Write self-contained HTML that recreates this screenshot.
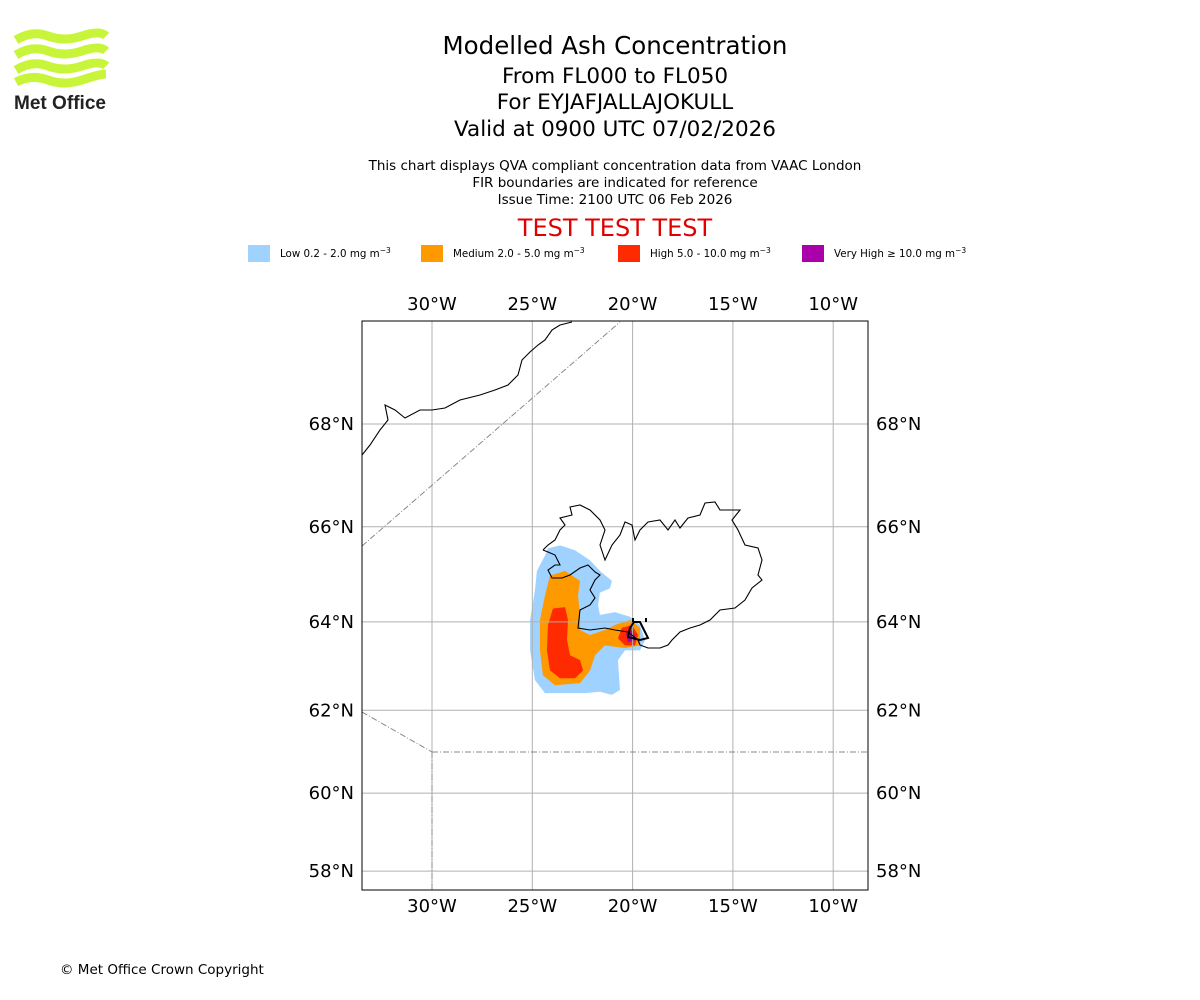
<!DOCTYPE html>
<html><head><meta charset="utf-8"><style>
body{margin:0;background:#fff;font-family:"DejaVu Sans","Liberation Sans",sans-serif;}
#root{position:relative;width:1200px;height:1000px;overflow:hidden;}
.t{position:absolute;left:0;width:1230px;text-align:center;color:#000;}
</style></head><body><div id="root">
<svg width="100" height="90" style="position:absolute;left:12px;top:28px" viewBox="0 0 100 90">
<g fill="none" stroke="#c8f53a" stroke-width="9">
<path d="M4 12 Q20 2 36 8 T70 8 T94 8"/><path d="M4 27 Q20 17 36 23 T70 23 T94 23"/><path d="M4 42 Q20 32 36 38 T70 38 T94 38"/><path d="M4 54 Q20 46 36 52 T70 52 T94 46"/></g>
<text x="2" y="81" font-family="Liberation Sans,sans-serif" font-weight="bold" font-size="19" fill="#222" textLength="92" lengthAdjust="spacingAndGlyphs">Met Office</text></svg>
<div class="t" style="top:31px;font-size:24.5px">Modelled Ash Concentration</div>
<div class="t" style="top:64px;font-size:21.5px">From FL000 to FL050</div>
<div class="t" style="top:90px;font-size:21.5px">For EYJAFJALLAJOKULL</div>
<div class="t" style="top:117px;font-size:21.5px">Valid at 0900 UTC 07/02/2026</div>
<div class="t" style="top:158px;font-size:13.5px;line-height:17px">This chart displays QVA compliant concentration data from VAAC London<br>FIR boundaries are indicated for reference<br>Issue Time: 2100 UTC 06 Feb 2026</div>
<div class="t" style="top:214px;font-size:24px;color:#e00000">TEST TEST TEST</div>
<svg id="map" width="1200" height="1000" style="position:absolute;left:0;top:0"></svg>
<div style="position:absolute;left:60px;top:962px;font-size:13.5px">© Met Office Crown Copyright</div>
</div>
<script>
const lonTicks=[-30,-25,-20,-15,-10];
const latTicks=[68,66,64,62,60,58];
const legendLabels=["Low 0.2 - 2.0 mg m","Medium 2.0 - 5.0 mg m","High 5.0 - 10.0 mg m","Very High  \u2265  10.0 mg m"];
const legendColors=["#a0d2ff","#ff9900","#ff2a00","#aa00aa"];
const ashLow=[[-24.22,65.56],[-23.62,65.62],[-22.87,65.52],[-22.12,65.31],[-21.63,65.09],[-21.03,64.88],[-21.13,64.72],[-21.63,64.63],[-21.72,64.36],[-21.63,64.15],[-20.88,64.21],[-20.13,64.11],[-19.63,63.93],[-19.38,63.6],[-19.63,63.37],[-20.38,63.37],[-20.73,63.15],[-20.63,62.47],[-21.03,62.36],[-21.63,62.43],[-22.37,62.4],[-24.37,62.4],[-24.87,62.7],[-25.11,63.37],[-25.11,64.04],[-24.87,64.67],[-24.77,65.09],[-24.37,65.41]];
const ashMedium=[[-24.12,64.99],[-23.37,65.09],[-22.62,64.88],[-22.72,64.57],[-22.62,64.15],[-22.62,63.82],[-22.12,63.71],[-21.38,63.82],[-20.88,63.93],[-20.13,64.04],[-19.63,63.87],[-19.63,63.48],[-20.38,63.42],[-21.38,63.48],[-21.87,63.26],[-22.12,62.92],[-22.62,62.63],[-23.87,62.58],[-24.47,62.81],[-24.62,63.37],[-24.62,64.04],[-24.37,64.57]];
const ashHigh=[[-23.97,64.29],[-23.37,64.32],[-23.22,64.04],[-23.27,63.6],[-23.12,63.26],[-22.62,63.15],[-22.47,62.92],[-22.87,62.74],[-23.62,62.74],[-24.12,62.92],[-24.27,63.37],[-24.22,63.93]];
const ashHigh2=[[-20.53,63.87],[-20.03,63.93],[-19.73,63.71],[-19.88,63.48],[-20.38,63.48],[-20.73,63.64]];
const ashVeryHigh=[[-20.33,63.75],[-19.98,63.82],[-19.83,63.6],[-20.23,63.55]];
const NS="http://www.w3.org/2000/svg";
const svg=document.getElementById('map');
const L=362,R=868,T=321,B=890;
function merc(l){return Math.log(Math.tan(Math.PI/4+l*Math.PI/360));}
function xs(lon){return 432+(lon+30)*20.06;}
function ys(lat){return 424+(merc(68)-merc(lat))*1150;}
function el(t,a,p){const e=document.createElementNS(NS,t);for(const k in a)e.setAttribute(k,a[k]);(p||svg).appendChild(e);return e;}
const lx=[248,421,618,802];
legendLabels.forEach((s,i)=>{
 const r=el('rect',{x:lx[i],y:245,width:22,height:17,fill:legendColors[i]});
 
 
 const t=el('text',{x:lx[i]+32,y:257,'font-size':10.3,'font-family':'DejaVu Sans,sans-serif','xml:space':'preserve'});
 
 
 t.textContent=s;
 const sp=el('tspan',{dy:-4,'font-size':7.5},t);sp.textContent='\u22123';
});
const defs=el('defs',{});const cp=el('clipPath',{id:'c'},defs);el('rect',{x:L,y:T,width:R-L,height:B-T},cp);
const g=el('g',{'clip-path':'url(#c)'});
[[ashLow,0],[ashMedium,1],[ashHigh,2],[ashHigh2,2],[ashVeryHigh,3]].forEach(([p,c])=>{
 const e=el('polygon',{points:p.map(q=>xs(q[0])+','+ys(q[1])).join(' '),fill:legendColors[c]},g);
 
 
});
lonTicks.forEach(v=>{
 const x=xs(v);const l=el('line',{x1:x,x2:x,y1:T,y2:B,stroke:'#b0b0b0','stroke-width':1},g);
 
 
 [0,1].forEach(j=>{const t=el('text',{x:x,y:j?912:310,'text-anchor':'middle','font-size':18});
  
  
  t.textContent=(-v)+'°W';});
});
latTicks.forEach(v=>{
 const y=ys(v);const l=el('line',{x1:L,x2:R,y1:y,y2:y,stroke:'#b0b0b0','stroke-width':1},g);
 
 
 [[354,'end'],[876,'start']].forEach(([x,a])=>{const t=el('text',{x:x,y:y+6,'text-anchor':a,'font-size':18});
  
  
  t.textContent=v+'°N';});
});
const ice="543,550 548,545 555,540 560,530 565,525 560,518 572,515 570,507 580,505 590,510 600,520 605,530 600,545 605,560 612,545 620,535 625,522 632,525 635,540 640,530 648,522 660,520 668,530 675,520 680,528 688,518 700,515 705,503 715,502 720,510 728,510 740,510 732,520 738,530 745,545 758,548 762,560 758,575 762,580 752,588 745,600 735,608 720,610 710,620 700,625 690,628 680,632 672,640 668,645 660,648 648,648 640,645 638,640 628,632 615,630 605,628 590,630 578,628 580,610 590,605 595,598 590,590 595,580 600,575 595,572 588,565 580,568 570,575 562,578 552,578 548,570 555,565 560,565 555,555 548,552 543,550";
const ic=el('polyline',{points:ice,fill:'none',stroke:'#000','stroke-width':1.1},g);


const gr=el('polyline',{points:"362,455 370,445 380,430 388,420 385,405 395,410 405,418 420,410 432,410 445,408 460,400 480,395 495,390 508,385 518,375 522,360 530,352 538,345 545,340 552,330 560,325 572,322",fill:'none',stroke:'#000','stroke-width':1.1},g);


const vs=el('path',{d:'M630 628 L634 622 L640 622 L643 628 L648 638 L640 640 L628 637 Z M633 622 L633 618 M646 622 L646 618',fill:'none',stroke:'#000','stroke-width':2},g);


[[362,546,620,322],[362,712,432,752],[432,752,868,752],[432,752,432,890]].forEach(a=>{
 const l=el('line',{x1:a[0],y1:a[1],x2:a[2],y2:a[3],stroke:'#888','stroke-width':1,'stroke-dasharray':'6,2,1,2'},g);
 
 
});
const fr=el('rect',{x:L,y:T,width:R-L,height:B-T,fill:'none',stroke:'#000','stroke-width':1});


</script></body></html>
